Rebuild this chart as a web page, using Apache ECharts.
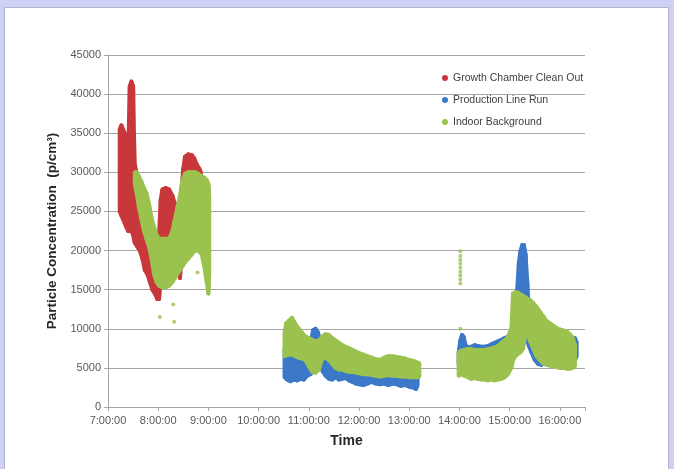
<!DOCTYPE html>
<html><head><meta charset="utf-8">
<script src="https://cdn.jsdelivr.net/npm/echarts@6/dist/echarts.min.js"></script>
<style>
html,body{margin:0;padding:0;background:#cdd2f4;width:674px;height:469px;overflow:hidden}
#panel{position:absolute;left:4px;top:7px;width:663px;height:470px;background:#fff;border:1px solid #b4b6c8;}
#chart{position:absolute;left:0;top:0;width:674px;height:469px}
</style></head><body><div id="panel"></div><div id="chart"></div>
<script>
// ---- data (time of day, lower and upper edge of each dense point cloud) ----
const seriesNames = ['Growth Chamber Clean Out', 'Production Line Run', 'Indoor Background'];
const xTickLabels = ['7:00:00','8:00:00','9:00:00','10:00:00','11:00:00','12:00:00','13:00:00','14:00:00','15:00:00','16:00:00'];

const redTimes = ['7:14','7:16','7:18','7:20','7:22','7:24','7:26','7:28','7:30','7:31','7:32','7:35','7:38','7:41','7:44','7:47','7:50','7:53','7:56','7:59','8:01','8:03','8:05','8:09','8:13','8:17','8:20','8:22','8:24','8:26','8:28','8:30','8:32','8:36','8:40','8:43','8:46','8:49','8:51'];
const redLow  = [25000,24500,24000,23500,23000,22500,22500,22500,22000,21500,21000,20500,20000,19000,17500,17000,16000,15000,14500,13800,13800,16000,17000,18000,18000,18500,18500,18500,18500,16500,19000,20000,21000,22000,22000,22000,22000,22000,22000];
const redHigh = [35500,36000,35500,35000,32000,31500,41000,41600,41000,35000,31000,29500,28500,27500,26500,25000,24000,23000,22000,21500,22000,26500,27800,28000,27800,27000,26000,24500,22000,24000,28000,30500,32000,32300,32200,31800,31000,30500,30000];

const blueMidTimes = ['10:31','10:34','10:38','10:42','10:46','10:50','10:54','10:58','11:02','11:05','11:08','11:11','11:14','11:17','11:20','11:24','11:28','11:32','11:36','11:40','11:44','11:48','11:52','11:56','12:00','12:05','12:10','12:15','12:20','12:25','12:30','12:35','12:40','12:45','12:50','12:55','13:00','13:05','13:08','13:10'];
const blueMidLow  = [3800,3500,3300,3500,3400,3600,3500,4000,4200,4500,4500,4800,5000,4500,4000,3600,3500,3800,3500,3600,3700,3400,3200,3000,2900,2800,3000,3200,3000,2900,3000,2800,3000,2900,2700,2800,2600,2500,2300,2800];
const blueMidHigh = [7500,7000,6800,6500,6200,6000,6000,6200,8000,9800,10000,9500,8300,7000,6800,6500,6000,5800,5500,5500,5200,5000,4800,4600,4600,4500,4500,4600,4400,4300,4200,4200,4300,4200,4100,4000,4000,4200,4000,4500];

const bluePmTimes = ['13:59','14:01','14:03','14:05','14:07','14:10','14:14','14:18','14:22','14:26','14:30','14:34','14:38','14:42','14:46','14:50','14:54','14:58','15:01','15:04','15:07','15:09','15:11','15:13','15:15','15:17','15:19','15:21','15:23','15:26','15:30','15:34','15:38','15:42','15:46','15:50','15:55','16:00','16:05','16:10','16:15','16:18','16:20'];
const bluePmLow  = [5500,5500,5800,6000,6000,6000,6000,6000,6000,6000,6000,6200,6300,6500,6500,6800,7000,7500,7500,8000,9000,11500,11500,13000,14000,12000,10000,8500,7800,7000,6000,5500,5400,5800,6000,6000,5800,5800,5800,6000,6200,6000,6500];
const bluePmHigh = [7000,8500,9200,9000,8000,7600,7700,7900,7800,7700,7700,7800,8000,8200,8400,8600,8800,9000,9300,10500,12000,15000,18500,20000,20700,20700,19500,16000,12000,10500,10000,9500,9000,8800,8700,8600,8500,8500,8500,8700,8800,8800,8300];

const greenAmTimes = ['7:32','7:34','7:37','7:40','7:43','7:46','7:49','7:52','7:55','7:58','8:01','8:05','8:09','8:13','8:17','8:20','8:23','8:26','8:29','8:32','8:36','8:40','8:44','8:48','8:52','8:55','8:58','9:00','9:01'];
const greenAmLow  = [28500,27500,25500,24000,22500,21500,20500,19000,17000,16000,15500,15300,15300,15500,16000,16500,17000,17500,18000,18500,19000,19500,20000,20000,19500,18000,16000,14500,17000];
const greenAmHigh = [30000,30000,29500,28800,28000,27300,26000,24200,23000,22000,21500,21500,21500,21500,22500,24000,25500,27000,29000,29800,30000,30000,30000,29800,29500,29300,29000,28500,27000];

const greenMidTimes = ['10:31','10:33','10:36','10:40','10:44','10:48','10:52','10:56','11:00','11:04','11:08','11:12','11:16','11:20','11:24','11:28','11:32','11:36','11:40','11:44','11:48','11:52','11:56','12:00','12:05','12:10','12:15','12:20','12:25','12:30','12:35','12:40','12:45','12:50','12:55','13:00','13:05','13:09','13:12'];
const greenMidLow  = [6500,6600,6700,6700,6500,6300,6200,6000,5200,4500,4400,4800,6200,6300,6000,5500,5000,4800,4800,4600,4500,4500,4400,4300,4200,4200,4100,4000,3900,4000,4100,4000,4000,3900,3900,3800,3800,3800,3900];
const greenMidHigh = [9500,10700,11000,11400,10600,10000,9500,9000,8800,8600,8400,8500,9000,9300,9200,8800,8500,8200,7900,7700,7500,7300,7100,6900,6700,6500,6300,6100,6000,6300,6500,6500,6400,6300,6200,6000,5900,5700,5600];

const greenPmTimes = ['13:59','14:02','14:06','14:10','14:14','14:18','14:22','14:26','14:30','14:34','14:38','14:42','14:46','14:50','14:54','14:58','15:02','15:04','15:07','15:10','15:13','15:16','15:19','15:21','15:24','15:28','15:32','15:36','15:40','15:44','15:48','15:52','15:56','16:00','16:04','16:08','16:12','16:15','16:18'];
const greenPmLow  = [4000,4200,4000,3800,3600,3700,3600,3500,3500,3400,3500,3400,3500,3600,3800,4200,5000,6000,6500,6800,7000,7500,9500,9800,8500,7500,6500,6000,5600,5400,5300,5200,5100,5000,5000,4900,4900,5000,5200];
const greenPmHigh = [7000,7200,7300,7400,7400,7300,7300,7300,7300,7400,7500,7600,7800,8200,8500,9000,10000,14500,14700,14600,14400,14200,14000,13800,13700,13300,12800,12200,11600,11000,10700,10400,10100,9900,9800,9700,9300,8900,8000];

const greenDotTimes  = ['14:01','14:01','14:01','14:01','14:01','14:01','14:01','14:01','14:01','14:01','8:02','8:18','8:19','8:47','14:13'];
const greenDotValues = [10000,15800,16300,16800,17300,17800,18300,18800,19300,19900,11500,13100,10900,17200,3800];

// ---- build ----
const toMin = s => { const p = s.split(':').map(Number); return p[0] * 60 + p[1]; };
const band = (times, lows, highs) => times.map((t, i) => [toMin(t), lows[i], highs[i]]);

const redData   = band(redTimes, redLow, redHigh);
const blueData  = band(blueMidTimes, blueMidLow, blueMidHigh).concat(band(bluePmTimes, bluePmLow, bluePmHigh));
const greenData = band(greenAmTimes, greenAmLow, greenAmHigh)
  .concat(band(greenMidTimes, greenMidLow, greenMidHigh))
  .concat(band(greenPmTimes, greenPmLow, greenPmHigh));
const dotData = greenDotTimes.map((t, i) => [toMin(t), greenDotValues[i]]);

const colors = ['#c8383a', '#3c78c8', '#9bc24e'];
const FONT = 'Liberation Sans, Arial, sans-serif';

function cloud(name, color, data) {
  return {
    type: 'custom', name: name, itemStyle: { color: color },
    data: data, encode: { x: 0, y: [1, 2] },
    renderItem: function (params, api) {
      const i = params.dataIndex, cur = data[i], nxt = data[i + 1];
      if (!nxt || nxt[0] - cur[0] > 20) return null;
      const pts = [api.coord([cur[0], cur[1]]), api.coord([cur[0], cur[2]]),
                   api.coord([nxt[0], nxt[2]]), api.coord([nxt[0], nxt[1]])];
      return { type: 'polygon', shape: { points: pts },
               style: { fill: color, stroke: color, lineWidth: 4, lineJoin: 'round' } };
    }
  };
}

const chart = echarts.init(document.getElementById('chart'), null, { renderer: 'canvas' });
chart.setOption({
  animation: false,
  grid: { left: 108, top: 55, width: 477, height: 352, containLabel: false },
  legend: {
    orient: 'vertical', left: 437, top: 67, itemWidth: 6, itemHeight: 6, itemGap: 10,
    icon: 'circle', data: seriesNames,
    textStyle: { fontSize: 10.5, color: '#404040', fontFamily: FONT, lineHeight: 12 }
  },
  xAxis: {
    type: 'value', min: 420, max: 990, interval: 60,
    name: 'Time', nameLocation: 'middle', nameGap: 27,
    nameTextStyle: { fontWeight: 'bold', fontSize: 14, color: '#262626', fontFamily: FONT },
    axisLine: { show: true, lineStyle: { color: '#a6a6a6' } },
    axisTick: { show: true, length: 4, lineStyle: { color: '#a6a6a6' } },
    splitLine: { show: false },
    axisLabel: {
      fontSize: 11, color: '#595959', fontFamily: FONT, margin: 8,
      formatter: v => (v % 60 === 0 ? xTickLabels[(v - 420) / 60] || '' : '')
    }
  },
  yAxis: {
    type: 'value', min: 0, max: 45000, interval: 5000,
    name: 'Particle Concentration  (p/cm³)', nameLocation: 'middle', nameGap: 40, nameRotate: 90,
    nameTextStyle: { fontWeight: 'bold', fontSize: 13.5, color: '#262626', fontFamily: FONT },
    axisLine: { show: true, lineStyle: { color: '#a6a6a6' } },
    axisTick: { show: true, length: 4, lineStyle: { color: '#a6a6a6' } },
    splitLine: { show: true, lineStyle: { color: '#a6a6a6' } },
    axisLabel: { fontSize: 11, color: '#595959', fontFamily: FONT, margin: 7, formatter: v => String(v) }
  },
  series: [
    cloud(seriesNames[0], colors[0], redData),
    cloud(seriesNames[1], colors[1], blueData),
    cloud(seriesNames[2], colors[2], greenData),
    { type: 'scatter', name: seriesNames[2], data: dotData, symbolSize: 4,
      itemStyle: { color: colors[2] } }
  ]
});
</script></body></html>
